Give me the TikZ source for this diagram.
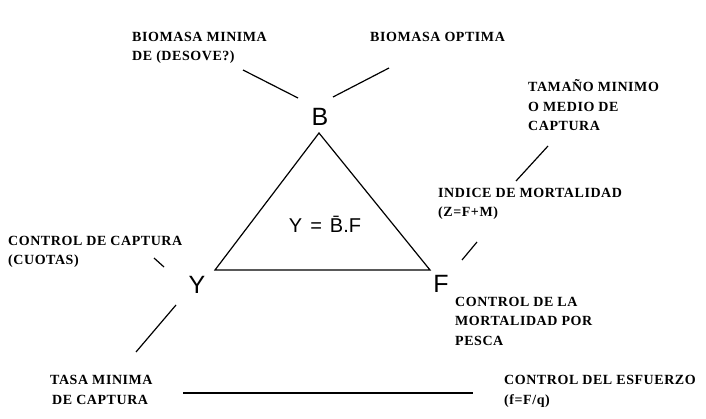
\documentclass[tikz,border=0pt]{standalone}
\usepackage{fontspec}
\setmainfont{Liberation Serif}[LetterSpace=4]
\newfontfamily\arialfont{Liberation Sans}
\begin{document}
\begin{tikzpicture}[x=1pt,y=-1pt,
    lbl/.style={font=\fontsize{14}{19.5}\selectfont\bfseries,align=left,inner sep=0pt,anchor=base west},
    vtx/.style={font=\arialfont\fontsize{25}{25}\selectfont,inner sep=0pt},
    ln/.style={line width=1.2pt}]
      \useasboundingbox[fill=white] (0,0) rectangle (706,419);
      % triangulo
      \coordinate (tB) at (319,133);
      \coordinate (tY) at (215,270);
      \coordinate (tF) at (430,270);
      \draw[ln] (tB) -- (tY) -- (tF) -- cycle;
      \node[vtx] (B) at (320,117) {B};
      \node[vtx] (Y) at (197,285) {Y};
      \node[vtx] (F) at (441,284) {F};
      \node[font=\arialfont\fontsize{20}{20}\selectfont,inner sep=0pt] (eq) at (325,224) {Y\hspace{0.4em}=\hspace{0.4em}\=B.F};
      % etiquetas
      \node[lbl] (bmin) at (132,61) {BIOMASA MINIMA\\DE (DESOVE?)};
      \node[lbl] (bopt) at (370,42) {BIOMASA OPTIMA};
      \node[lbl] (tam) at (528,131) {TAMAÑO MINIMO\\O MEDIO DE\\CAPTURA};
      \node[lbl] (ind) at (438,217) {INDICE DE MORTALIDAD\\(Z=F+M)};
      \node[lbl] (ccap) at (8,265) {CONTROL DE CAPTURA\\(CUOTAS)};
      \node[lbl] (cmort) at (455,345) {CONTROL DE LA\\MORTALIDAD POR\\PESCA};
      \node[lbl] (tasa) at (50,404) {TASA MINIMA\\\hspace{2pt}DE CAPTURA};
      \node[lbl] (cesf) at (504,404) {CONTROL DEL ESFUERZO\\(f=F/q)};
      % lineas
      \coordinate (b1) at (243,70);  \coordinate (b2) at (298,98);
      \coordinate (o1) at (389,68);  \coordinate (o2) at (333,97);
      \coordinate (t1) at (548,146); \coordinate (t2) at (516,181);
      \coordinate (i1) at (477,242); \coordinate (i2) at (462,260);
      \coordinate (c1) at (154,258); \coordinate (c2) at (164,267);
      \coordinate (s1) at (176,305); \coordinate (s2) at (136,352);
      \coordinate (h1) at (183,393); \coordinate (h2) at (473,393);
      \draw[ln] (b1) -- (b2);
      \draw[ln] (o1) -- (o2);
      \draw[ln] (t1) -- (t2);
      \draw[ln] (i1) -- (i2);
      \draw[ln] (c1) -- (c2);
      \draw[ln] (s1) -- (s2);
      \draw[ln] (h1) -- (h2);
\end{tikzpicture}
\end{document}
